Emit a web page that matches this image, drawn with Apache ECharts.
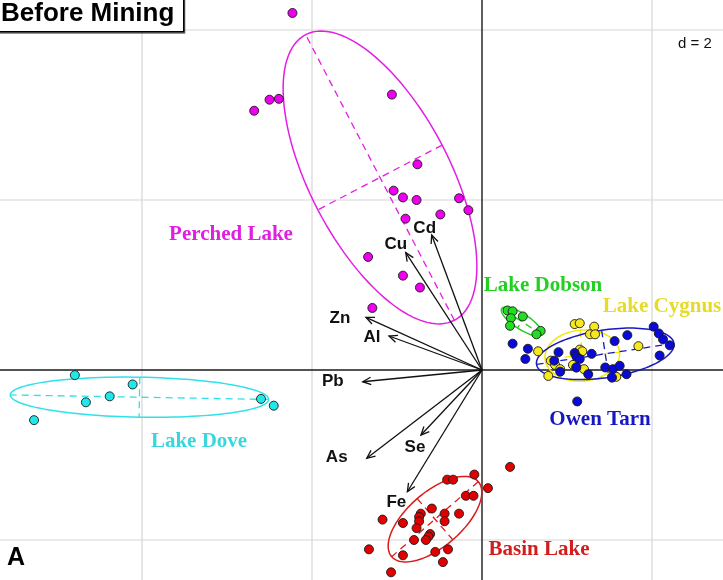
<!DOCTYPE html>
<html>
<head>
<meta charset="utf-8">
<script src="https://cdn.jsdelivr.net/npm/echarts@6/dist/echarts.min.js"></script>
<style>
  html, body { margin: 0; padding: 0; background: #ffffff; }
  #chart { width: 723px; height: 580px; }
</style>
</head>
<body>
<div id="chart"></div>
<script>
// ---- Sample scores on the first two principal axes, one array per lake ----
const perchedLake = [
  [-2.23, 4.20], [-1.06, 3.24], [-2.39, 3.19], [-2.50, 3.18], [-2.68, 3.05],
  [-0.76, 2.42], [-1.04, 2.11], [-0.93, 2.03], [-0.77, 2.00], [-0.27, 2.02],
  [-0.16, 1.88], [-0.49, 1.83], [-0.90, 1.78], [-1.34, 1.33], [-0.93, 1.11],
  [-0.73, 0.97], [-1.29, 0.73]
];
const lakeDove = [
  [-4.79, -0.06], [-4.11, -0.17], [-4.38, -0.31], [-4.66, -0.38], [-5.27, -0.59],
  [-2.60, -0.34], [-2.45, -0.42]
];
const lakeDobson = [
  [0.30, 0.70], [0.36, 0.69], [0.34, 0.61], [0.48, 0.63], [0.33, 0.52],
  [0.69, 0.46], [0.64, 0.42]
];
const lakeCygnus = [
  [1.09, 0.54], [1.15, 0.55], [1.32, 0.51], [1.27, 0.42], [1.33, 0.42],
  [0.66, 0.22], [1.84, 0.28], [1.15, 0.24], [1.18, 0.22], [0.81, 0.11],
  [0.86, 0.06], [0.78, -0.07], [1.07, 0.06], [1.11, 0.03], [1.20, 0.01],
  [1.53, -0.08], [1.58, -0.08], [0.92, 0.01]
];
const owenTarn = [
  [0.36, 0.31], [0.54, 0.25], [0.51, 0.13], [0.90, 0.21], [0.85, 0.11],
  [0.92, -0.02], [1.09, 0.20], [1.11, 0.16], [1.15, 0.13], [1.11, 0.03],
  [1.29, 0.19], [1.25, -0.05], [1.56, 0.34], [1.71, 0.41], [2.02, 0.51],
  [2.08, 0.43], [2.13, 0.36], [2.21, 0.29], [2.09, 0.17], [1.45, 0.03],
  [1.54, 0.01], [1.62, 0.05], [1.53, -0.09], [1.70, -0.05], [1.12, -0.37]
];
const basinLake = [
  [0.33, -1.14], [-0.09, -1.23], [-0.41, -1.29], [-0.34, -1.29], [0.07, -1.39],
  [-0.19, -1.48], [-0.10, -1.48], [-1.17, -1.76], [-0.93, -1.80], [-0.59, -1.63],
  [-0.72, -1.69], [-0.74, -1.73], [-0.74, -1.78], [-0.44, -1.69], [-0.44, -1.78],
  [-0.27, -1.69], [-0.77, -1.86], [-0.61, -1.93], [-0.63, -1.96], [-0.66, -2.00],
  [-0.80, -2.00], [-1.33, -2.11], [-0.93, -2.18], [-0.55, -2.14], [-0.40, -2.11],
  [-0.46, -2.26], [-1.07, -2.38]
];

// ---- Group inertia ellipses: [centre x, centre y, semi-major, semi-minor, angle in degrees] ----
const perchedEllipse = [-1.20, 2.265, 1.894, 0.824, -62.5];
const doveEllipse    = [-4.03, -0.32, 1.52, 0.235, -1.0];
const dobsonEllipse  = [0.467, 0.57, 0.28, 0.09, -33];
const cygnusEllipse  = [1.18, 0.17, 0.44, 0.30, 5];
const owenEllipse    = [1.45, 0.19, 0.818, 0.28, 8.7];
const basinEllipse   = [-0.553, -1.755, 0.674, 0.32, 40.9];

// ---- Variable loadings (arrows) ----
const elements  = ['Cd', 'Cu', 'Zn', 'Al', 'Pb', 'As', 'Se', 'Fe'];
const loadingX  = [-0.592, -0.897, -1.365, -1.094, -1.403, -1.356, -0.718, -0.878];
const loadingY  = [1.588, 1.380, 0.620, 0.400, -0.138, -1.039, -0.765, -1.432];

// ---- Grid lines (d = 2) ----
const gridTicksX = [-4, -2, 0, 2];
const gridTicksY = [-2, 0, 2, 4];

// ---- Appearance ----
const groups = [
  { name: 'Perched Lake', pts: perchedLake, ell: perchedEllipse, fill: '#EE00EE', line: '#E41EE4', text: '#E020E0', at: [231, 235] },
  { name: 'Lake Dove',    pts: lakeDove,    ell: doveEllipse,    fill: '#1EE8E8', line: '#30E0EA', text: '#3AD6DC', at: [199, 442] },
  { name: 'Lake Dobson',  pts: lakeDobson,  ell: dobsonEllipse,  fill: '#22DD22', line: '#22CC22', text: '#22D022', at: [543, 286] },
  { name: 'Lake Cygnus',  pts: lakeCygnus,  ell: cygnusEllipse,  fill: '#F6E81E', line: '#F2E800', text: '#E6DC28', at: [662, 307] },
  { name: 'Owen Tarn',    pts: owenTarn,    ell: owenEllipse,    fill: '#0A0AD8', line: '#1818C0', text: '#1818C0', at: [600, 420] },
  { name: 'Basin Lake',   pts: basinLake,   ell: basinEllipse,   fill: '#E00000', line: '#E01818', text: '#D41C1C', at: [539, 550] }
];
const labelOffset = {
  Cd: [-7, -7], Cu: [-10, -8], Zn: [-26, 1], Al: [-17, 1],
  Pb: [-30, 0], As: [-30, -1], Se: [-6, 12], Fe: [-11, 11]
};

const PX = 85; // pixels per unit
const X_MIN = -482 / PX, X_MAX = 241 / PX;
const Y_MIN = -210 / PX, Y_MAX = 370 / PX;

const chart = echarts.init(document.getElementById('chart'), null, { renderer: 'canvas' });

function gridLineItem(params, api) {
  const v = api.value(0), horizontal = api.value(1) === 1;
  const p1 = horizontal ? api.coord([X_MIN, v]) : api.coord([v, Y_MIN]);
  const p2 = horizontal ? api.coord([X_MAX, v]) : api.coord([v, Y_MAX]);
  const isZero = v === 0;
  return {
    type: 'line',
    shape: { x1: p1[0], y1: p1[1], x2: p2[0], y2: p2[1] },
    style: { stroke: isZero ? '#1a1a1a' : '#d6d6d6', lineWidth: isZero ? 1.4 : 1.2 },
    z2: isZero ? 2 : 1
  };
}

function ellipseItem(params, api) {
  const g = groups[params.seriesIndex - 1] || groups[0];
  const cx = api.value(0), cy = api.value(1), a = api.value(2), b = api.value(3);
  const t0 = api.value(4) * Math.PI / 180;
  const c = Math.cos(t0), s = Math.sin(t0);
  const pts = [];
  for (let i = 0; i <= 120; i++) {
    const t = i / 120 * 2 * Math.PI;
    const ex = a * Math.cos(t), ey = b * Math.sin(t);
    pts.push(api.coord([cx + ex * c - ey * s, cy + ex * s + ey * c]));
  }
  const m1 = api.coord([cx + a * c, cy + a * s]), m2 = api.coord([cx - a * c, cy - a * s]);
  const n1 = api.coord([cx - b * s, cy + b * c]), n2 = api.coord([cx + b * s, cy - b * c]);
  const dash = { stroke: g.line, lineWidth: 1.3, lineDash: [7, 5] };
  return {
    type: 'group',
    children: [
      { type: 'polyline', shape: { points: pts }, style: { stroke: g.line, lineWidth: 1.5, fill: null } },
      { type: 'line', shape: { x1: m1[0], y1: m1[1], x2: m2[0], y2: m2[1] }, style: dash },
      { type: 'line', shape: { x1: n1[0], y1: n1[1], x2: n2[0], y2: n2[1] }, style: dash }
    ]
  };
}

function arrowItem(params, api) {
  const o = api.coord([0, 0]);
  const p = api.coord([api.value(0), api.value(1)]);
  const ang = Math.atan2(p[1] - o[1], p[0] - o[0]);
  const L = 9, spread = 0.42;
  const h1 = [p[0] - L * Math.cos(ang - spread), p[1] - L * Math.sin(ang - spread)];
  const h2 = [p[0] - L * Math.cos(ang + spread), p[1] - L * Math.sin(ang + spread)];
  const name = elements[params.dataIndex];
  const off = labelOffset[name];
  return {
    type: 'group',
    children: [
      { type: 'line', shape: { x1: o[0], y1: o[1], x2: p[0], y2: p[1] }, style: { stroke: '#111', lineWidth: 1.3 } },
      { type: 'polyline', shape: { points: [h1, p, h2] }, style: { stroke: '#111', lineWidth: 1.3, fill: null } },
      {
        type: 'text', x: p[0] + off[0], y: p[1] + off[1],
        style: {
          text: name, fill: '#111',
          font: 'bold 17px "Liberation Sans", Arial, sans-serif',
          align: 'center', verticalAlign: 'middle',
          textAlign: 'center', textVerticalAlign: 'middle'
        }
      }
    ]
  };
}

const gridData = gridTicksX.map(v => [v, 0]).concat(gridTicksY.map(v => [v, 1]));

const series = [
  {
    type: 'custom', name: 'grid', renderItem: gridLineItem, data: gridData,
    encode: { x: -1, y: -1 }, silent: true, z: 1, clip: false
  }
];
groups.forEach((g) => {
  series.push({
    type: 'custom', name: g.name + ' ellipse', renderItem: ellipseItem,
    data: [g.ell], encode: { x: 0, y: 1 }, silent: true, z: 2, clip: false
  });
});
groups.forEach((g) => {
  series.push({
    type: 'scatter', name: g.name, data: g.pts, symbol: 'circle', symbolSize: 9,
    itemStyle: { color: g.fill, borderColor: '#1a1a1a', borderWidth: 0.9, opacity: 1 },
    emphasis: { disabled: true }, silent: true, z: 3
  });
});
series.push({
  type: 'custom', name: 'loadings', renderItem: arrowItem,
  data: loadingX.map((x, i) => [x, loadingY[i]]),
  encode: { x: 0, y: 1 }, silent: true, z: 4, clip: false
});

const graphics = [
  {
    type: 'rect', left: -3, top: -3, z: 10,
    shape: { x: 0, y: 0, width: 186, height: 34 },
    style: { fill: '#fff', stroke: '#000', lineWidth: 1.5, shadowColor: 'rgba(0,0,0,0.35)', shadowOffsetX: 1, shadowOffsetY: 1.5 }
  },
  {
    type: 'text', left: 1, top: 1, z: 11,
    style: { text: 'Before Mining', font: 'bold 26px "Liberation Sans", Arial, sans-serif', fill: '#000' }
  },
  {
    type: 'text', left: 678, top: 36, z: 11,
    style: { text: 'd = 2', font: '15px "Liberation Sans", Arial, sans-serif', fill: '#111' }
  },
  {
    type: 'text', left: 7, top: 546, z: 11,
    style: { text: 'A', font: 'bold 25px "Liberation Sans", Arial, sans-serif', fill: '#000' }
  }
];
groups.forEach((g) => {
  graphics.push({
    type: 'text', x: g.at[0], y: g.at[1], z: 11,
    style: {
      text: g.name, fill: g.text,
      font: 'bold 21px "Liberation Serif", "Times New Roman", serif',
      align: 'center', verticalAlign: 'middle',
      textAlign: 'center', textVerticalAlign: 'middle'
    }
  });
});

chart.setOption({
  animation: false,
  backgroundColor: '#ffffff',
  grid: { left: 0, right: 0, top: 0, bottom: 0, containLabel: false },
  xAxis: { type: 'value', min: X_MIN, max: X_MAX, show: false },
  yAxis: { type: 'value', min: Y_MIN, max: Y_MAX, show: false },
  series: series,
  graphic: graphics
});
</script>
</body>
</html>
